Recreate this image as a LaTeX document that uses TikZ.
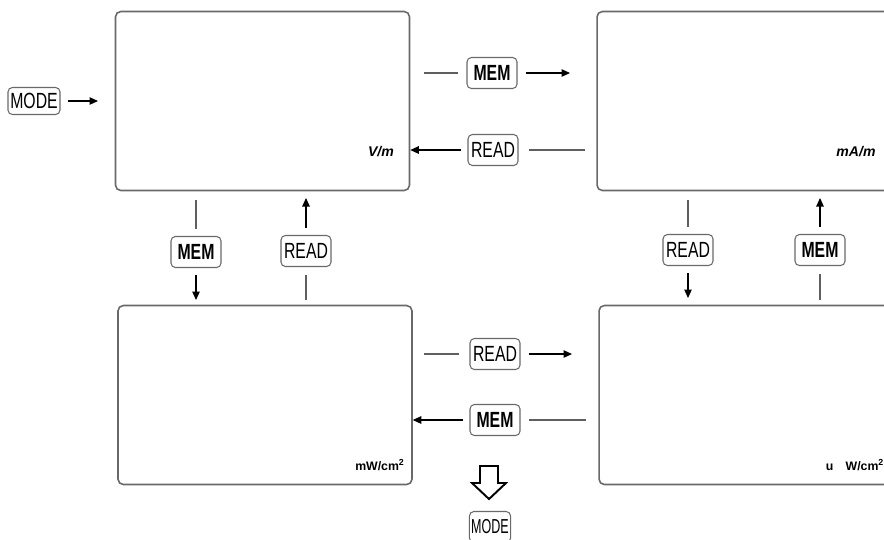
\documentclass[tikz,border=0pt]{standalone}
\usepackage{fontspec}
\setmainfont{Liberation Sans}
\newfontfamily\keyfont[FakeStretch=0.72]{Liberation Sans}
\newfontfamily\narrowkeyfont[FakeStretch=0.62]{Liberation Sans}
\usetikzlibrary{arrows.meta}
\definecolor{frame}{RGB}{105,105,105}
\definecolor{wiregray}{RGB}{95,95,95}
\tikzset{
  >={Triangle[length=1.7mm,width=1.5mm]},
  screen/.style={draw=frame,line width=0.9pt,rounded corners=3pt,
    minimum width=5.88cm,minimum height=3.58cm},
  key/.style={draw=frame,line width=0.6pt,rounded corners=2.5pt,inner sep=1pt,
    minimum width=1cm,minimum height=0.62cm,font=\keyfont\fontsize{12.5}{14}\selectfont},
  boldkey/.style={key,font=\keyfont\fontsize{12.5}{14}\selectfont\bfseries},
  unit/.style={font=\fontsize{8}{9}\selectfont\bfseries\itshape},
  unit2/.style={font=\fontsize{7}{8}\selectfont\bfseries},
  wire/.style={draw=wiregray,line width=0.6pt},
  arr/.style={->,draw=black,line width=0.6pt},
}

\begin{document}
\begin{tikzpicture}[x=0.02cm,y=-0.02cm]
  \useasboundingbox (0,0) rectangle (884,539);
  \clip (0,0) rectangle (884,539);

  % the four display screens
  \node[screen] (scrV) at (262.5,101) {};
  \node[screen] (scrA) at (744,101) {};
  \node[screen] (scrW) at (265,395) {};
  \node[screen] (scrU) at (746,395) {};

  \node[unit] (uV) at (381,152) {V/m};
  \node[unit] (uA) at (856,152) {mA/m};
  \node[unit2] (uW) at (380,465) {mW/cm\textsuperscript{2}};
  \node[unit2] (uU) at (855,465) {u\quad W/cm\textsuperscript{2}};

  % keys
  \node[key,minimum width=1.04cm,minimum height=0.54cm] (modeL) at (34,101) {MODE};
  \node[boldkey] (memA) at (492,73) {MEM};
  \node[key] (readA) at (493,150) {READ};
  \node[boldkey] (memV) at (196,252) {MEM};
  \node[key] (readV) at (306,251) {READ};
  \node[key] (readU) at (688,250) {READ};
  \node[boldkey] (memU) at (820,250) {MEM};
  \node[key] (readW) at (495,354) {READ};
  \node[boldkey] (memW) at (495,420) {MEM};
  \node[key,minimum width=0.72cm,minimum height=0.62cm,
    font=\narrowkeyfont\fontsize{11.5}{13}\selectfont] (modeB) at (490,527) {MODE};

  % free ends of the connectors
  \coordinate (mA1) at (424,73);  \coordinate (mA2) at (570,73);
  \coordinate (rA1) at (585,150);
  \coordinate (mV1) at (196,200); \coordinate (mV2) at (196,300);
  \coordinate (rV1) at (306,198); \coordinate (rV2) at (306,300);
  \coordinate (rU1) at (688,200); \coordinate (rU2) at (688,298);
  \coordinate (mU1) at (820,198); \coordinate (mU2) at (820,300);
  \coordinate (rW1) at (424,354); \coordinate (rW2) at (572,354);
  \coordinate (mW1) at (586,420);
  \coordinate (mL) at (98,101);

  \draw[arr,shorten <=1.4mm] (modeL) -- (mL);

  % top row
  \draw[wire,shorten >=1.6mm] (mA1) -- (memA);
  \draw[arr,shorten <=1.6mm] (memA) -- (mA2);
  \draw[arr,shorten <=1.2mm] (readA) -- (readA -| scrV.east);
  \draw[wire,shorten >=2mm] (rA1) -- (readA);

  % left column
  \draw[wire,shorten >=1.4mm] (mV1) -- (memV);
  \draw[arr,shorten <=1.4mm] (memV) -- (mV2);
  \draw[arr,shorten <=1.4mm] (readV) -- (rV1);
  \draw[wire,shorten >=1.6mm] (rV2) -- (readV);

  % right column
  \draw[wire,shorten >=1.4mm] (rU1) -- (readU);
  \draw[arr,shorten <=1.4mm] (readU) -- (rU2);
  \draw[arr,shorten <=1.4mm] (memU) -- (mU1);
  \draw[wire,shorten >=1.6mm] (mU2) -- (memU);

  % bottom row
  \draw[wire,shorten >=2mm] (rW1) -- (readW);
  \draw[arr,shorten <=1.6mm] (readW) -- (rW2);
  \draw[arr,shorten <=1.2mm] (memW) -- (memW -| scrW.east);
  \draw[wire,shorten >=1.6mm] (mW1) -- (memW);

  % hollow arrow down to MODE
  \draw[line width=1.1pt,line join=miter] (480,466) -- (498,466) -- (498,483)
    -- (506,483) -- (489,499) -- (472,483) -- (480,483) -- cycle;
\end{tikzpicture}
\end{document}
